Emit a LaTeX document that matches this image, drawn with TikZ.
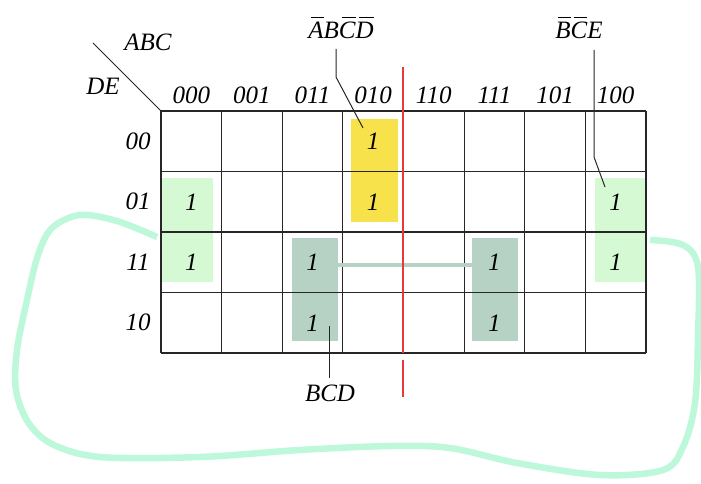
\documentclass[tikz,border=0pt]{standalone}
\usepackage{fontspec}
\setmainfont{Liberation Serif}
\usetikzlibrary{positioning}
\definecolor{GridLine}{HTML}{262626}
\definecolor{Yellow}{HTML}{F7E24B}
\definecolor{LightGreen}{HTML}{D5F9D2}
\definecolor{DarkGreen}{HTML}{B6D2C4}
\definecolor{Mint}{HTML}{BDF8DA}
\definecolor{CutRed}{HTML}{E8393A}
\newcommand{\negl}[1]{\setbox0\hbox{#1}\rlap{\hspace{0.12em}\rule[0.8em]{\dimexpr\wd0-0.12em\relax}{1.2pt}}#1}

\begin{document}
\begin{tikzpicture}[x=1pt, y=-1pt, every node/.style={font=\fontsize{25}{28}\selectfont\itshape, inner sep=0pt}]
    \tikzstyle{grp}=[anchor=north west, minimum height=103pt, minimum width=47pt]
    \tikzstyle{gridline}=[GridLine, line width=1.2pt]
    \tikzstyle{leader}=[GridLine, line width=1pt]
    \useasboundingbox (0,0) rectangle (701,484);
    % groups
    \node[grp, fill=Yellow] (quad) at (351,119) {};
    \node[grp, fill=LightGreen, minimum width=51pt, minimum height=104pt] (pairL) at (162,178) {};
    \node[grp, fill=LightGreen, minimum width=50pt, minimum height=104pt] (pairR) at (595,178) {};
    \node[grp, fill=DarkGreen, minimum width=46pt] (bcdL) at (292,238) {};
    \node[grp, fill=DarkGreen, minimum width=46pt] (bcdR) at (472,238) {};
    % wrap-around loop
    \draw[Mint, line width=6.5pt] plot[smooth, tension=0.55] coordinates {
      (157,237) (117,221) (80,215) (52,228) (38,255) (27,300) (17,350) (16,390) (28,422)
      (52,444) (100,457) (200,457) (300,450) (390,446) (450,448) (517,463) (600,475)
      (663,470) (683,447) (695,403) (698,337) (698,267) (683,245) (650,240)};
    % grid
    \foreach \i in {0,...,8}
      \draw[gridline] ({161+\i*60.625},111) -- ({161+\i*60.625},353);
    \foreach \j in {0,...,4}
      \draw[gridline] (161,{111+\j*60.5}) -- (646,{111+\j*60.5});
    \coordinate (corner) at (161,111);
    \coordinate (slash) at (93,43);
    \draw[leader] (slash) -- (corner);
    % ones
    \foreach \c/\r in {4/1,4/2,1/2,1/3,3/3,3/4,6/3,6/4,8/2,8/3}
      \node (one-\c-\r) at ({161+(\c-0.5)*60.625},{111+(\r-0.5)*60.5}) {1};
    \draw[DarkGreen, line width=4.5pt] ([yshift=-2.5pt]bcdL.east |- one-3-3) -- ([yshift=-2.5pt]bcdR.west |- one-6-3);
    % symmetry line
    \coordinate (cutA) at (403,67);
    \coordinate (cutB) at (403,353);
    \coordinate (cutC) at (403,360);
    \coordinate (cutD) at (403,397);
    \draw[draw=CutRed, line width=1.1pt] (cutA) -- (cutB) (cutC) -- (cutD);
    % headings
    \node (abc) at (148,42) {ABC};
    \node (de) at (103,86) {DE};
    \foreach \lab [count=\i] in {000,001,011,010,110,111,101,100}
      \node (col\i) at ({161+(\i-0.5)*60.625},95) {\lab};
    \foreach \lab [count=\j] in {00,01,11,10}
      \node (row\j) at (138,{111+(\j-0.5)*60.5}) {\lab};
    % terms
    \node (tQuad) at (341,28) {\negl{A}B\negl{C}\negl{D}};
    \node (tPair) at (579,28) {\negl{B}\negl{C}E};
    \node (tBcd) at (330,393) {BCD};
    \coordinate (q1) at (336,49);
    \coordinate (q2) at (336,77);
    \coordinate (q3) at (363,128);
    \draw[leader] (q1) -- (q2) -- (q3);
    \coordinate (p1) at (594,50);
    \coordinate (p2) at (594,157);
    \coordinate (p3) at (605,187);
    \draw[leader] (p1) -- (p2) -- (p3);
    \coordinate (b1) at (329,326);
    \coordinate (b2) at (329,378);
    \draw[leader] (b1) -- (b2);
  \end{tikzpicture}
\end{document}
